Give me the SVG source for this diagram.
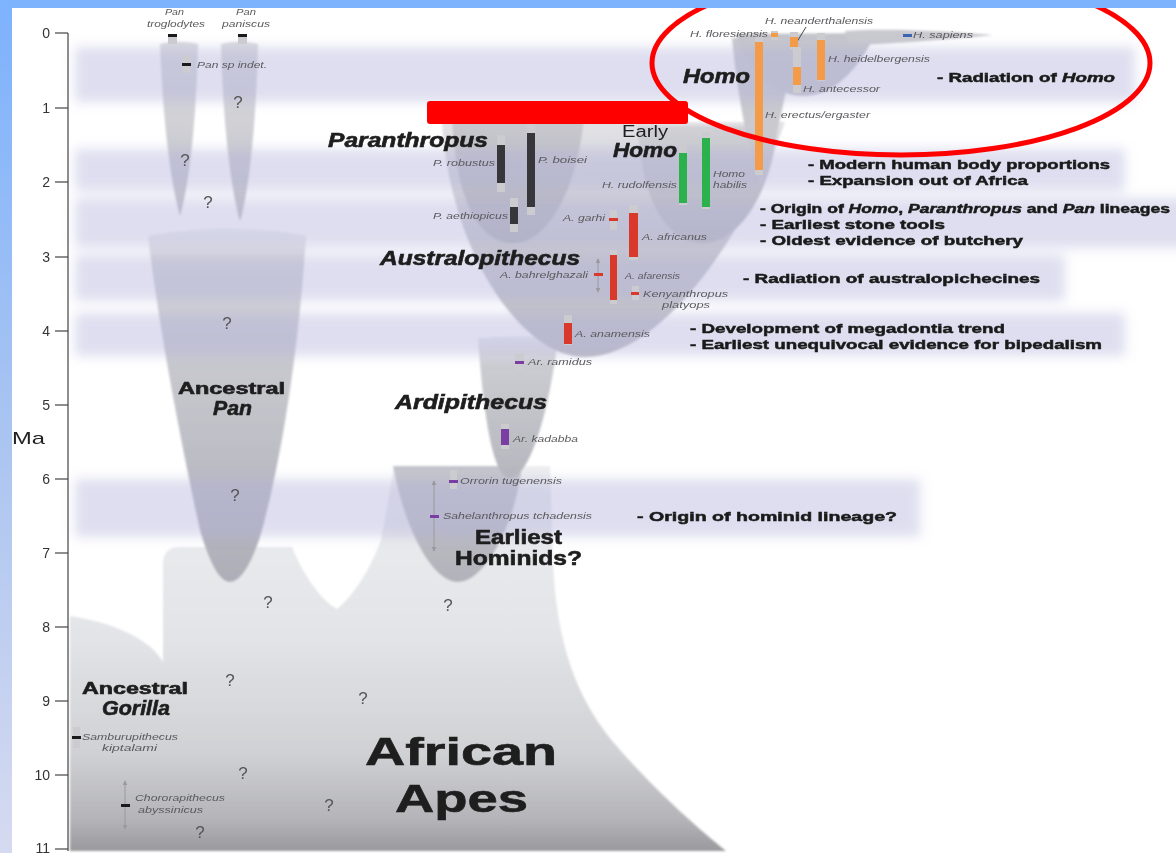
<svg xmlns="http://www.w3.org/2000/svg" width="1176" height="853" viewBox="0 0 1176 853">
<defs>
<style>
text{font-family:"Liberation Sans",Arial,sans-serif}
.ax{font-size:14px;fill:#333}
.sp{font-size:9px;font-style:italic;fill:#5a5a5e}
.big{font-size:20px;font-weight:bold;font-style:italic;fill:#1e1e1e;stroke:#1e1e1e;stroke-width:0.6}
.bb{font-weight:bold;fill:#1e1e1e;stroke:#1e1e1e;stroke-width:0.6}
.note{font-size:13.5px;font-weight:bold;fill:#1a1a1a;stroke:#1a1a1a;stroke-width:0.5}
.q{font-size:17px;fill:#555;text-anchor:middle}
.unc{fill:#cbcbd0}
.par{fill:#36363b}.aus{fill:#d8392b}.eh{fill:#2bb24c}.hom{fill:#f39b48}.ard{fill:#7a3ea3}.ape{fill:#1a1a1a}.sap{fill:#3b66b0}
.band{fill:#b0b0dc;opacity:0.42}
.arr{stroke:#9a9a9e;stroke-width:1;fill:none;marker-start:url(#ah);marker-end:url(#ah)}
.tick{stroke:#444;stroke-width:1.2}
</style>
<filter id="bblur" x="-5%" y="-50%" width="110%" height="200%"><feGaussianBlur stdDeviation="6"/></filter>
<filter id="soft"><feGaussianBlur stdDeviation="1"/></filter>
<marker id="ah" viewBox="0 0 6 6" refX="5" refY="3" markerWidth="5" markerHeight="5" orient="auto-start-reverse"><path d="M0,0 L6,3 L0,6 z" fill="#9a9a9e"/></marker>
<linearGradient id="gBase" gradientUnits="userSpaceOnUse" x1="0" y1="460" x2="0" y2="851"><stop offset="0" stop-color="#eeeff1"/><stop offset="0.45" stop-color="#e3e4e7"/><stop offset="0.75" stop-color="#d0d1d4"/><stop offset="0.92" stop-color="#b4b4b8"/><stop offset="1" stop-color="#9a9a9e"/></linearGradient>
<linearGradient id="gPan" gradientUnits="userSpaceOnUse" x1="0" y1="226" x2="0" y2="582"><stop offset="0" stop-color="#f6f6f7"/><stop offset="0.1" stop-color="#d4d5d9"/><stop offset="1" stop-color="#aeaeb8"/></linearGradient>
<linearGradient id="gThin" gradientUnits="userSpaceOnUse" x1="0" y1="40" x2="0" y2="222"><stop offset="0" stop-color="#dcdce0"/><stop offset="1" stop-color="#c2c2c9"/></linearGradient>
<linearGradient id="gAus" gradientUnits="userSpaceOnUse" x1="0" y1="122" x2="0" y2="357"><stop offset="0" stop-color="#e2e2e6"/><stop offset="0.55" stop-color="#c9c9cf"/><stop offset="1" stop-color="#bdbdc5"/></linearGradient>
<linearGradient id="gPar" gradientUnits="userSpaceOnUse" x1="0" y1="118" x2="0" y2="243"><stop offset="0" stop-color="#c8c8ce"/><stop offset="1" stop-color="#b4b4bc"/></linearGradient>
<linearGradient id="gEH" gradientUnits="userSpaceOnUse" x1="0" y1="126" x2="0" y2="243"><stop offset="0" stop-color="#d0d0d5"/><stop offset="1" stop-color="#b8b9bf"/></linearGradient>
<linearGradient id="gArd" gradientUnits="userSpaceOnUse" x1="0" y1="338" x2="0" y2="478"><stop offset="0" stop-color="#ececef"/><stop offset="0.2" stop-color="#cbccd1"/><stop offset="1" stop-color="#b6b6be"/></linearGradient>
<linearGradient id="gEarly" gradientUnits="userSpaceOnUse" x1="0" y1="466" x2="0" y2="582"><stop offset="0" stop-color="#c5c6cc"/><stop offset="1" stop-color="#b2b2ba"/></linearGradient>
<linearGradient id="gLeft" x1="0" y1="0" x2="0" y2="1"><stop offset="0" stop-color="#7db2fd"/><stop offset="0.5" stop-color="#a9c4f1"/><stop offset="1" stop-color="#d6daf0"/></linearGradient>
</defs>

<rect x="0" y="0" width="1176" height="853" fill="#ffffff"/>

<g id="shapes" filter="url(#soft)">
<path id="african-apes" fill="url(#gBase)" d="M70,616 C110,622 150,638 163,662 L163,562 Q164,547 180,547 L292,547 C302,572 320,600 337,609 C355,595 372,565 381,540 C386,515 390,490 394,466 L550,466 C551,500 552,530 553,560 C556,640 575,700 620,750 C660,795 700,830 726,851 L70,851 Z"/>
<path id="pan-cone" fill="url(#gPan)" d="M148,236 C195,226 262,226 306,236 C300,330 286,440 262,530 C252,565 240,582 230,582 C220,582 210,565 200,530 C178,430 158,320 148,236 Z"/>
<path id="trog-cone" fill="url(#gThin)" d="M160,44 C172,41 186,41 198,44 C196,120 190,180 180,216 C170,180 163,120 160,44 Z"/>
<path id="panis-cone" fill="url(#gThin)" d="M221,44 C233,41 246,41 258,44 C256,120 250,185 240,222 C230,185 223,120 221,44 Z"/>
<path id="earliest-cone" fill="url(#gEarly)" d="M393,466 L522,466 C515,525 485,582 458,582 C432,582 405,530 393,466 Z"/>
<path id="ardi-cone" fill="url(#gArd)" d="M478,338 C505,336 532,336 558,338 C548,420 528,478 510,478 C493,478 484,420 478,338 Z"/>
<path id="aus-cone" fill="url(#gAus)" d="M442,122 L785,122 C740,250 655,357 585,357 C520,357 450,250 442,122 Z"/>
<path id="par-cone" fill="url(#gPar)" d="M452,118 L584,118 C578,180 552,243 513,243 C478,243 456,200 452,118 Z"/>
<path id="ehomo-cone" fill="url(#gEH)" d="M638,126 L778,126 C772,190 740,243 703,243 C665,243 640,195 638,126 Z"/>
<path id="homo-cone" fill="#c9c9cf" d="M732,38 C738,100 750,160 761,185 C772,160 785,100 796,38 Z"/>
<path id="neand-cone" fill="#c5c6cc" d="M736,34 C748,70 772,96 803,96 C838,96 862,62 876,33 Z"/>
<path id="sapiens-cone" fill="#c9c9cf" d="M845,31 C890,28 945,31 993,35 C945,40 890,44 850,45 Z"/>
</g>

<g id="bands" filter="url(#bblur)">
<rect class="band" x="75" y="47" width="1060" height="55"/>
<rect class="band" x="75" y="149" width="1050" height="42"/>
<rect class="band" x="75" y="198" width="1115" height="50"/>
<rect class="band" x="75" y="255" width="990" height="46"/>
<rect class="band" x="75" y="313" width="1050" height="43"/>
<rect class="band" x="75" y="479" width="845" height="58"/>
</g>

<g id="axis">
<line class="tick" x1="68" y1="33" x2="68" y2="851"/>
<line class="tick" x1="55" y1="33" x2="68" y2="33"/>
<line class="tick" x1="55" y1="108" x2="68" y2="108"/>
<line class="tick" x1="55" y1="182" x2="68" y2="182"/>
<line class="tick" x1="55" y1="257" x2="68" y2="257"/>
<line class="tick" x1="55" y1="331" x2="68" y2="331"/>
<line class="tick" x1="55" y1="405" x2="68" y2="405"/>
<line class="tick" x1="55" y1="479" x2="68" y2="479"/>
<line class="tick" x1="55" y1="553" x2="68" y2="553"/>
<line class="tick" x1="55" y1="627" x2="68" y2="627"/>
<line class="tick" x1="55" y1="701" x2="68" y2="701"/>
<line class="tick" x1="55" y1="775" x2="68" y2="775"/>
<line class="tick" x1="55" y1="849" x2="68" y2="849"/>
<text class="ax" x="50" y="38" text-anchor="end">0</text>
<text class="ax" x="50" y="113" text-anchor="end">1</text>
<text class="ax" x="50" y="187" text-anchor="end">2</text>
<text class="ax" x="50" y="262" text-anchor="end">3</text>
<text class="ax" x="50" y="336" text-anchor="end">4</text>
<text class="ax" x="50" y="410" text-anchor="end">5</text>
<text class="ax" x="50" y="484" text-anchor="end">6</text>
<text class="ax" x="50" y="558" text-anchor="end">7</text>
<text class="ax" x="50" y="632" text-anchor="end">8</text>
<text class="ax" x="50" y="706" text-anchor="end">9</text>
<text class="ax" x="50" y="780" text-anchor="end">10</text>
<text class="ax" x="50" y="853" text-anchor="end">11</text>
<text x="12" y="444" font-size="17" fill="#222" textLength="33" lengthAdjust="spacingAndGlyphs">Ma</text>
</g>

<g id="connectors">
<line class="arr" x1="598" y1="259" x2="598" y2="292"/>
<line class="arr" x1="434" y1="481" x2="434" y2="551"/>
<line class="arr" x1="125" y1="781" x2="125" y2="829"/>
<line x1="806" y1="27" x2="795" y2="45" stroke="#333" stroke-width="0.9"/>
</g>

<g id="pan-troglodytes"><rect class="unc" x="168" y="36" width="9" height="8"/><rect class="ape" x="168" y="34" width="9" height="3"/>
<text class="sp" x="165" y="15" textLength="19" lengthAdjust="spacingAndGlyphs">Pan</text>
<text class="sp" x="147" y="27" textLength="58" lengthAdjust="spacingAndGlyphs">troglodytes</text></g>
<g id="pan-paniscus"><rect class="unc" x="238" y="36" width="9" height="8"/><rect class="ape" x="238" y="34" width="9" height="3"/>
<text class="sp" x="236" y="15" textLength="20" lengthAdjust="spacingAndGlyphs">Pan</text>
<text class="sp" x="222" y="27" textLength="48" lengthAdjust="spacingAndGlyphs">paniscus</text></g>
<g id="pan-sp"><rect class="unc" x="183" y="55" width="7" height="18"/><rect class="ape" x="182" y="63" width="9" height="3"/>
<text class="sp" x="197" y="68" textLength="70" lengthAdjust="spacingAndGlyphs">Pan sp indet.</text></g>

<g id="homo-species">
<rect class="unc" x="755" y="33" width="8" height="142"/><rect class="hom" x="755" y="42" width="8" height="128"/>
<rect class="unc" x="771" y="31" width="7" height="9"/><rect class="hom" x="771" y="33" width="7" height="4"/>
<rect class="unc" x="790" y="32" width="8" height="17"/><rect class="hom" x="790" y="37" width="8" height="10"/>
<rect class="unc" x="817" y="33" width="8" height="48"/><rect class="hom" x="817" y="40" width="8" height="40"/>
<rect class="unc" x="793" y="47" width="8" height="46"/><rect class="hom" x="793" y="67" width="8" height="18"/>
<rect class="sap" x="903" y="34" width="9" height="3"/>
<text class="sp" x="765" y="24" textLength="108" lengthAdjust="spacingAndGlyphs">H. neanderthalensis</text>
<text class="sp" x="690" y="37" textLength="78" lengthAdjust="spacingAndGlyphs">H. floresiensis</text>
<text class="sp" x="913" y="38" textLength="60" lengthAdjust="spacingAndGlyphs">H. sapiens</text>
<text class="sp" x="828" y="62" textLength="102" lengthAdjust="spacingAndGlyphs">H. heidelbergensis</text>
<text class="sp" x="803" y="92" textLength="77" lengthAdjust="spacingAndGlyphs">H. antecessor</text>
<text class="sp" x="765" y="118" textLength="105" lengthAdjust="spacingAndGlyphs">H. erectus/ergaster</text>
</g>

<g id="paranthropus-species">
<rect class="unc" x="497" y="135" width="8" height="57"/><rect class="par" x="497" y="145" width="8" height="38"/>
<rect class="unc" x="527" y="123" width="8" height="92"/><rect class="par" x="527" y="133" width="8" height="74"/>
<rect class="unc" x="510" y="198" width="8" height="34"/><rect class="par" x="510" y="207" width="8" height="17"/>
<text class="sp" x="433" y="166" textLength="62" lengthAdjust="spacingAndGlyphs">P. robustus</text>
<text class="sp" x="538" y="163" textLength="49" lengthAdjust="spacingAndGlyphs">P. boisei</text>
<text class="sp" x="433" y="219" textLength="75" lengthAdjust="spacingAndGlyphs">P. aethiopicus</text>
</g>

<g id="early-homo-species">
<rect class="unc" x="679" y="145" width="8" height="60"/><rect class="eh" x="679" y="153" width="8" height="50"/>
<rect class="unc" x="702" y="132" width="8" height="77"/><rect class="eh" x="702" y="138" width="8" height="69"/>
<text class="sp" x="602" y="188" textLength="75" lengthAdjust="spacingAndGlyphs">H. rudolfensis</text>
<text class="sp" x="713" y="177" textLength="32" lengthAdjust="spacingAndGlyphs">Homo</text>
<text class="sp" x="713" y="188" textLength="34" lengthAdjust="spacingAndGlyphs">habilis</text>
</g>

<g id="australopith-species">
<rect class="unc" x="610" y="210" width="7" height="20"/><rect class="aus" x="609" y="218" width="9" height="3"/>
<rect class="unc" x="629" y="205" width="9" height="55"/><rect class="aus" x="629" y="213" width="9" height="44"/>
<rect class="unc" x="610" y="250" width="7" height="54"/><rect class="aus" x="610" y="255" width="7" height="45"/>
<rect class="aus" x="594" y="273" width="9" height="3"/>
<rect class="unc" x="632" y="286" width="7" height="14"/><rect class="aus" x="631" y="292" width="8" height="3"/>
<rect class="unc" x="564" y="315" width="8" height="30"/><rect class="aus" x="564" y="323" width="8" height="21"/>
<text class="sp" x="563" y="221" textLength="42" lengthAdjust="spacingAndGlyphs">A. garhi</text>
<text class="sp" x="642" y="240" textLength="65" lengthAdjust="spacingAndGlyphs">A. africanus</text>
<text class="sp" x="500" y="278" textLength="88" lengthAdjust="spacingAndGlyphs">A. bahrelghazali</text>
<text class="sp" x="625" y="279" textLength="55" lengthAdjust="spacingAndGlyphs">A. afarensis</text>
<text class="sp" x="643" y="297" textLength="85" lengthAdjust="spacingAndGlyphs">Kenyanthropus</text>
<text class="sp" x="662" y="308" textLength="48" lengthAdjust="spacingAndGlyphs">platyops</text>
<text class="sp" x="575" y="337" textLength="75" lengthAdjust="spacingAndGlyphs">A. anamensis</text>
</g>

<g id="ardi-species">
<rect class="unc" x="515" y="353" width="9" height="18"/><rect class="ard" x="515" y="361" width="9" height="3"/>
<rect class="unc" x="501" y="424" width="8" height="25"/><rect class="ard" x="501" y="429" width="8" height="16"/>
<rect class="unc" x="450" y="470" width="7" height="19"/><rect class="ard" x="449" y="480" width="9" height="3"/>
<rect class="ard" x="430" y="515" width="9" height="3"/>
<text class="sp" x="528" y="365" textLength="64" lengthAdjust="spacingAndGlyphs">Ar. ramidus</text>
<text class="sp" x="513" y="442" textLength="65" lengthAdjust="spacingAndGlyphs">Ar. kadabba</text>
<text class="sp" x="460" y="484" textLength="102" lengthAdjust="spacingAndGlyphs">Orrorin tugenensis</text>
<text class="sp" x="443" y="519" textLength="149" lengthAdjust="spacingAndGlyphs">Sahelanthropus tchadensis</text>
</g>

<g id="gorilla-species">
<rect class="unc" x="73" y="727" width="7" height="21"/><rect class="ape" x="72" y="736" width="9" height="3"/>
<rect class="ape" x="121" y="804" width="9" height="3"/>
<text class="sp" x="82" y="740" textLength="96" lengthAdjust="spacingAndGlyphs">Samburupithecus</text>
<text class="sp" x="102" y="751" textLength="55" lengthAdjust="spacingAndGlyphs">kiptalami</text>
<text class="sp" x="135" y="801" textLength="90" lengthAdjust="spacingAndGlyphs">Chororapithecus</text>
<text class="sp" x="138" y="813" textLength="65" lengthAdjust="spacingAndGlyphs">abyssinicus</text>
</g>

<g id="group-labels">
<text class="big" x="328" y="147" textLength="160" lengthAdjust="spacingAndGlyphs">Paranthropus</text>
<text class="big" x="380" y="265" textLength="200" lengthAdjust="spacingAndGlyphs">Australopithecus</text>
<text class="big" x="395" y="409" textLength="152" lengthAdjust="spacingAndGlyphs">Ardipithecus</text>
<text class="big" x="683" y="83" font-size="21" textLength="67" lengthAdjust="spacingAndGlyphs">Homo</text>
<text x="622" y="137" font-size="16" fill="#1e1e1e" textLength="46" lengthAdjust="spacingAndGlyphs">Early</text>
<text class="big" x="613" y="157" textLength="64" lengthAdjust="spacingAndGlyphs">Homo</text>
<text class="bb" x="475" y="544" font-size="20" textLength="87" lengthAdjust="spacingAndGlyphs">Earliest</text>
<text class="bb" x="455" y="565" font-size="20" textLength="127" lengthAdjust="spacingAndGlyphs">Hominids?</text>
<text class="bb" x="178" y="394" font-size="16" textLength="107" lengthAdjust="spacingAndGlyphs">Ancestral</text>
<text class="big" x="213" y="415" font-size="17" textLength="39" lengthAdjust="spacingAndGlyphs">Pan</text>
<text class="bb" x="82" y="694" font-size="16" textLength="106" lengthAdjust="spacingAndGlyphs">Ancestral</text>
<text class="big" x="102" y="715" font-size="17" textLength="68" lengthAdjust="spacingAndGlyphs">Gorilla</text>
<text class="bb" x="365" y="765" font-size="38" font-weight="900" stroke-width="1.2" textLength="192" lengthAdjust="spacingAndGlyphs">African</text>
<text class="bb" x="395" y="812" font-size="39" font-weight="900" stroke-width="1.2" textLength="133" lengthAdjust="spacingAndGlyphs">Apes</text>
</g>

<g id="questions">
<text class="q" x="238" y="108">?</text>
<text class="q" x="185" y="166">?</text>
<text class="q" x="208" y="208">?</text>
<text class="q" x="227" y="329">?</text>
<text class="q" x="235" y="501">?</text>
<text class="q" x="268" y="608">?</text>
<text class="q" x="448" y="611">?</text>
<text class="q" x="230" y="686">?</text>
<text class="q" x="363" y="704">?</text>
<text class="q" x="243" y="779">?</text>
<text class="q" x="329" y="811">?</text>
<text class="q" x="200" y="838">?</text>
</g>

<g id="events">
<text class="note" x="937" y="82" textLength="178" lengthAdjust="spacingAndGlyphs">- Radiation of <tspan font-style="italic">Homo</tspan></text>
<text class="note" x="808" y="169" textLength="302" lengthAdjust="spacingAndGlyphs">- Modern human body proportions</text>
<text class="note" x="808" y="185" textLength="220" lengthAdjust="spacingAndGlyphs">- Expansion out of Africa</text>
<text class="note" x="760" y="213" textLength="410" lengthAdjust="spacingAndGlyphs">- Origin of <tspan font-style="italic">Homo</tspan>, <tspan font-style="italic">Paranthropus</tspan> and <tspan font-style="italic">Pan</tspan> lineages</text>
<text class="note" x="760" y="229" textLength="185" lengthAdjust="spacingAndGlyphs">- Earliest stone tools</text>
<text class="note" x="760" y="245" textLength="263" lengthAdjust="spacingAndGlyphs">- Oldest evidence of butchery</text>
<text class="note" x="743" y="283" textLength="297" lengthAdjust="spacingAndGlyphs">- Radiation of australopichecines</text>
<text class="note" x="690" y="333" textLength="315" lengthAdjust="spacingAndGlyphs">- Development of megadontia trend</text>
<text class="note" x="690" y="349" textLength="412" lengthAdjust="spacingAndGlyphs">- Earliest unequivocal evidence for bipedalism</text>
<text class="note" x="637" y="521" textLength="260" lengthAdjust="spacingAndGlyphs">- Origin of hominid lineage?</text>
</g>

<g id="annotations">
<rect x="427" y="101" width="261" height="23" rx="3" fill="#ff0000"/>
<ellipse cx="901" cy="63" rx="249" ry="92" fill="none" stroke="#ff0000" stroke-width="5"/>
</g>

<g id="frame">
<rect x="0" y="0" width="1176" height="8" fill="#7db2fd"/>
<rect x="0" y="0" width="12" height="853" fill="url(#gLeft)"/>
</g>
</svg>
